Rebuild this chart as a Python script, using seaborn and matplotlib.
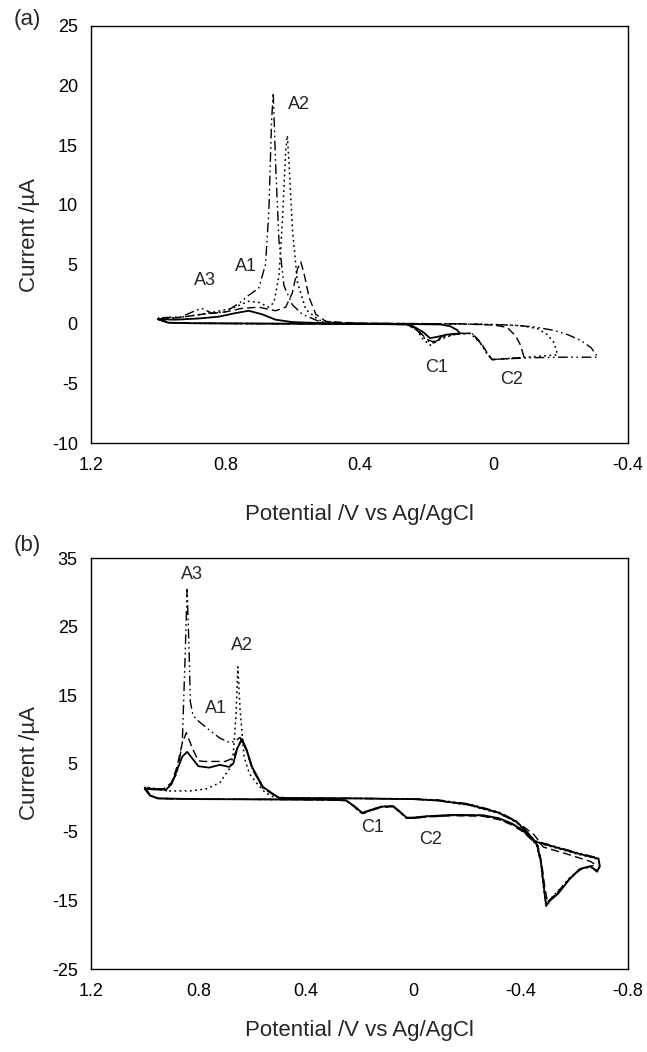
import matplotlib
matplotlib.use("Agg")
import matplotlib.pyplot as plt
import seaborn as sns

# ---------------------------------------------------------------------------
# Panel (a): cyclic voltammograms with increasing cathodic switching potential
# (potential in V vs Ag/AgCl, current in uA), scan starts at 1.0 V
# ---------------------------------------------------------------------------
a_solid_E = [1.00, 0.97, 0.90, 0.60, 0.40, 0.26, 0.24, 0.21, 0.19, 0.17, 0.14, 0.10,
             0.11, 0.13, 0.16, 0.30, 0.50, 0.60, 0.65, 0.69, 0.73, 0.77, 0.82, 0.88, 0.95, 1.00]
a_solid_I = [0.4, 0.1, 0.05, 0.02, 0.0, -0.05, -0.2, -0.7, -1.2, -1.1, -0.9, -0.8,
             -0.5, -0.2, -0.05, 0.0, 0.05, 0.15, 0.35, 0.8, 1.1, 0.9, 0.6, 0.45, 0.35, 0.4]

a_dash_E = [1.00, 0.97, 0.90, 0.60, 0.40, 0.26, 0.23, 0.20, 0.18, 0.15, 0.10, 0.065, 0.04,
            0.02, 0.005, -0.05, -0.09,
            -0.08, -0.065, -0.04, 0.00, 0.10, 0.40, 0.50, 0.53, 0.55, 0.565, 0.575, 0.585,
            0.60, 0.62, 0.65, 0.70, 0.75, 0.80, 0.87, 0.93, 1.00]
a_dash_I = [0.35, 0.1, 0.05, 0.0, 0.0, -0.05, -0.4, -1.3, -1.5, -1.0, -0.8, -0.8, -1.5,
            -2.4, -3.0, -2.9, -2.8,
            -1.8, -1.0, -0.3, -0.1, 0.0, 0.05, 0.2, 0.8, 2.2, 4.2, 5.2, 4.6,
            2.6, 1.4, 1.1, 1.4, 1.3, 1.0, 0.8, 0.55, 0.35]

a_dot_E = [1.00, 0.97, 0.90, 0.60, 0.40, 0.26, 0.23, 0.21, 0.19, 0.16, 0.12, 0.07, 0.04,
           0.02, 0.005, -0.10, -0.19,
           -0.18, -0.16, -0.13, -0.08, 0.00, 0.20, 0.45, 0.52, 0.56, 0.585, 0.60, 0.61,
           0.615, 0.62, 0.63, 0.64, 0.655, 0.67, 0.70, 0.73, 0.78, 0.85, 0.92, 1.00]
a_dot_I = [0.4, 0.1, 0.05, 0.0, 0.0, -0.05, -0.5, -1.3, -1.8, -1.3, -0.9, -0.8, -1.6,
           -2.5, -3.0, -2.8, -2.6,
           -1.6, -0.9, -0.4, -0.15, -0.05, 0.0, 0.05, 0.3, 1.2, 3.5, 8.0, 13.5,
           15.8, 14.5, 8.5, 4.0, 1.8, 1.4, 1.8, 1.9, 1.3, 0.9, 0.6, 0.4]

a_dashdot_E = [1.00, 0.97, 0.90, 0.60, 0.40, 0.26, 0.23, 0.20, 0.18, 0.15, 0.10, 0.065,
               0.04, 0.02, 0.005, -0.10, -0.20, -0.31,
               -0.29, -0.26, -0.22, -0.18, -0.12, -0.05, 0.10, 0.45, 0.52, 0.57, 0.60,
               0.625, 0.64, 0.65, 0.657, 0.662, 0.67, 0.68, 0.70, 0.73, 0.76, 0.80, 0.84,
               0.87, 0.89, 0.93, 1.00]
a_dashdot_I = [0.5, 0.1, 0.05, 0.0, 0.0, -0.05, -0.5, -1.4, -1.6, -1.1, -0.8, -0.8,
               -1.6, -2.5, -3.0, -2.85, -2.8, -2.8,
               -2.0, -1.4, -0.9, -0.55, -0.25, -0.1, 0.0, 0.05, 0.2, 0.8, 1.6,
               3.2, 7.0, 13.5, 19.4, 17.0, 9.5, 5.0, 3.0, 2.4, 1.7, 1.0, 0.9,
               1.3, 1.1, 0.6, 0.5]

# ---------------------------------------------------------------------------
# Panel (b): scans to -0.69 V
# ---------------------------------------------------------------------------
b_solid_E = [1.00, 0.98, 0.95, 0.80, 0.50, 0.30, 0.25, 0.22, 0.19, 0.16, 0.12, 0.075,
             0.05, 0.025, 0.00, -0.05, -0.15, -0.26, -0.32, -0.37, -0.41, -0.44, -0.46,
             -0.475, -0.485, -0.495, -0.51, -0.54, -0.58, -0.62, -0.66, -0.685, -0.695,
             -0.69, -0.60, -0.52, -0.455, -0.42, -0.385, -0.32, -0.21, -0.09, 0.00, 0.20,
             0.45, 0.50, 0.52, 0.56, 0.60, 0.62, 0.638, 0.655, 0.67, 0.685, 0.72, 0.76,
             0.80, 0.82, 0.842, 0.86, 0.88, 0.90, 0.92, 0.96, 1.00]
b_solid_I = [1.3, 0.3, -0.1, -0.2, -0.25, -0.3, -0.4, -1.2, -2.2, -1.8, -1.3, -1.2,
             -2.0, -2.9, -2.9, -2.7, -2.5, -2.55, -3.0, -3.8, -4.8, -5.9, -6.8,
             -9.0, -12.5, -15.8, -15.0, -14.0, -12.0, -10.4, -10.0, -10.8, -10.0,
             -8.9, -8.0, -7.1, -6.4, -4.9, -3.5, -2.2, -1.0, -0.4, -0.2, -0.1,
             -0.05, 0.0, 0.5, 1.6, 4.5, 7.0, 8.6, 7.2, 5.0, 4.5, 4.8, 4.4,
             4.6, 5.6, 6.7, 6.0, 4.0, 2.0, 1.2, 1.2, 1.3]

b_dash_E = [1.00, 0.98, 0.95, 0.80, 0.50, 0.30, 0.25, 0.22, 0.19, 0.16, 0.12, 0.075,
            0.05, 0.025, 0.00, -0.05, -0.15, -0.26, -0.32, -0.37, -0.41, -0.44, -0.465,
            -0.48, -0.49, -0.50, -0.52, -0.55, -0.59, -0.63, -0.66, -0.68,
            -0.66, -0.58, -0.485, -0.45, -0.41, -0.37, -0.31, -0.20, -0.09, 0.00, 0.20,
            0.45, 0.50, 0.52, 0.56, 0.60, 0.62, 0.64, 0.655, 0.67, 0.70, 0.74, 0.78,
            0.80, 0.82, 0.845, 0.86, 0.88, 0.90, 0.93, 0.97, 1.00]
b_dash_I = [1.4, 0.4, -0.1, -0.2, -0.25, -0.3, -0.4, -1.3, -2.3, -1.9, -1.4, -1.3,
            -2.1, -3.0, -3.0, -2.8, -2.6, -2.7, -3.2, -4.0, -5.0, -6.1, -7.0,
            -10.0, -13.0, -15.2, -14.5, -13.2, -11.5, -10.3, -10.0, -9.8,
            -9.3, -8.3, -7.2, -5.4, -4.2, -3.2, -2.1, -1.0, -0.4, -0.2, -0.1,
            -0.05, 0.0, 0.4, 1.4, 4.2, 6.8, 8.4, 7.3, 5.8, 5.3, 5.3, 5.3,
            5.4, 7.0, 9.5, 8.0, 4.5, 2.2, 1.3, 1.3, 1.4]

b_dot_E = [1.00, 0.98, 0.95, 0.80, 0.50, 0.30, 0.25, 0.22, 0.19, 0.16, 0.12, 0.075,
           0.05, 0.025, 0.00, -0.05, -0.15, -0.26, -0.32, -0.37, -0.41, -0.44, -0.46,
           -0.475, -0.485, -0.495, -0.51, -0.54, -0.58, -0.62, -0.66, -0.685, -0.695,
           -0.69, -0.60, -0.52, -0.455, -0.42, -0.385, -0.32, -0.21, -0.09, 0.00, 0.20,
           0.45, 0.52, 0.55, 0.58, 0.61, 0.63, 0.645, 0.653, 0.66, 0.67, 0.68, 0.72,
           0.77, 0.83, 0.91, 0.95, 1.00]
b_dot_I = [1.5, 0.4, -0.1, -0.2, -0.25, -0.3, -0.4, -1.2, -2.2, -1.8, -1.3, -1.2,
           -2.0, -2.9, -2.9, -2.7, -2.5, -2.6, -3.1, -3.9, -4.9, -6.0, -6.9,
           -9.5, -13.0, -15.5, -14.8, -13.6, -11.8, -10.5, -10.1, -10.6, -10.0,
           -9.0, -8.1, -7.2, -6.5, -5.0, -3.6, -2.3, -1.1, -0.4, -0.2, -0.1,
           -0.05, 0.1, 0.7, 2.0, 3.5, 6.0, 13.0, 19.1, 12.0, 6.5, 4.5, 2.2,
           1.3, 1.0, 1.0, 1.3, 1.5]

b_dashdot_E = [1.00, 0.98, 0.95, 0.80, 0.50, 0.30, 0.25, 0.22, 0.19, 0.16, 0.12, 0.075,
               0.05, 0.025, 0.00, -0.05, -0.15, -0.26, -0.32, -0.37, -0.41, -0.44, -0.46,
               -0.475, -0.485, -0.495, -0.51, -0.54, -0.58, -0.62, -0.66, -0.685, -0.695,
               -0.69, -0.60, -0.52, -0.455, -0.42, -0.385, -0.32, -0.21, -0.09, 0.00, 0.20,
               0.45, 0.50, 0.52, 0.56, 0.60, 0.62, 0.645, 0.655, 0.68, 0.72, 0.76, 0.80,
               0.82, 0.83, 0.835, 0.842, 0.85, 0.86, 0.88, 0.92, 0.96, 1.00]
b_dashdot_I = [1.6, 0.4, -0.1, -0.2, -0.25, -0.3, -0.4, -1.3, -2.4, -1.9, -1.4, -1.3,
               -2.1, -3.0, -3.0, -2.8, -2.6, -2.6, -3.1, -3.9, -4.9, -6.0, -6.9,
               -9.3, -12.8, -15.6, -14.9, -13.8, -11.9, -10.4, -10.0, -10.7, -10.0,
               -8.8, -7.9, -7.0, -6.3, -4.8, -3.4, -2.1, -0.9, -0.3, -0.15, -0.1,
               -0.05, 0.0, 0.5, 1.5, 4.3, 6.8, 8.8, 8.5, 8.0, 8.7, 9.9, 11.2,
               12.0, 14.0, 22.0, 30.4, 20.0, 8.0, 3.5, 1.0, 1.3, 1.6]

a_xticks = [1.2, 1.0, 0.8, 0.6, 0.4, 0.2, 0.0, -0.2, -0.4]
a_xlabels = ["1.2", "", "0.8", "", "0.4", "", "0", "", "-0.4"]
a_yticks = [-10, -5, 0, 5, 10, 15, 20, 25]
b_xticks = [1.2, 1.0, 0.8, 0.6, 0.4, 0.2, 0.0, -0.2, -0.4, -0.6, -0.8]
b_xlabels = ["1.2", "", "0.8", "", "0.4", "", "0", "", "-0.4", "", "-0.8"]
b_yticks = [-25, -15, -5, 5, 15, 25, 35]

a_peaks = [("A2", 0.579, 18.4), ("A1", 0.737, 4.8), ("A3", 0.860, 3.6),
           ("C1", 0.170, -3.7), ("C2", -0.054, -4.7)]
b_peaks = [("A3", 0.824, 32.6), ("A2", 0.638, 22.2), ("A1", 0.734, 13.1),
           ("C1", 0.153, -4.4), ("C2", -0.063, -6.1)]

sns.set_theme(style="white")
plt.rcParams['font.family'] = ['Liberation Sans', 'DejaVu Sans']
plt.rcParams['axes.unicode_minus'] = False

FS = 13        # tick labels and peak names
FS_LABEL = 16  # axis titles
SOLID = '-'
DASH = (0, (6, 3))
DOT = (0, (1.2, 2.2))
DASHDOT = (0, (7, 2.5, 1.2, 2.5, 1.2, 2.5))

fig = plt.figure(figsize=(6.47, 10.52), dpi=100)
W, H = 647, 1052
ax_a = fig.add_axes([91 / W, 1 - 443 / H, (628 - 91) / W, (443 - 26) / H])
ax_b = fig.add_axes([91 / W, 1 - 969 / H, (628 - 91) / W, (969 - 558) / H])


def trace(ax, E, I, ls, lw):
    sns.lineplot(x=E, y=I, sort=False, estimator=None, color='black',
                 linestyle=ls, linewidth=lw, ax=ax)


trace(ax_a, a_dashdot_E, a_dashdot_I, DASHDOT, 1.0)
trace(ax_a, a_dot_E, a_dot_I, DOT, 1.1)
trace(ax_a, a_dash_E, a_dash_I, DASH, 1.0)
trace(ax_a, a_solid_E, a_solid_I, SOLID, 1.3)

trace(ax_b, b_dashdot_E, b_dashdot_I, DASHDOT, 1.0)
trace(ax_b, b_dot_E, b_dot_I, DOT, 1.1)
trace(ax_b, b_dash_E, b_dash_I, DASH, 1.0)
trace(ax_b, b_solid_E, b_solid_I, SOLID, 1.3)


def style_axes(ax, xticks, xlabels, yticks, xlim, ylim, peaks):
    ax.set_xlim(*xlim)
    ax.set_ylim(*ylim)
    ax.set_xticks(xticks)
    ax.set_xticklabels(xlabels)
    ax.set_yticks(yticks)
    ax.set_yticklabels([str(v) for v in yticks])
    ax.tick_params(axis='x', direction='in', length=3.6, width=1, pad=10,
                   labelsize=FS, colors='black')
    ax.tick_params(axis='y', direction='out', length=6.5, width=1, pad=3,
                   labelsize=FS, colors='black')
    for s in ax.spines.values():
        s.set_visible(True)
        s.set_color('black')
        s.set_linewidth(1.0)
    ax.set_xlabel('Potential /V vs Ag/AgCl', fontsize=FS_LABEL)
    ax.set_ylabel('Current /µA', fontsize=FS_LABEL)
    ax.grid(False)
    for name, x, y in peaks:
        ax.text(x, y, name, ha='center', va='center', fontsize=FS)


style_axes(ax_a, a_xticks, a_xlabels, a_yticks, (1.2, -0.4), (-10, 25), a_peaks)
style_axes(ax_b, b_xticks, b_xlabels, b_yticks, (1.2, -0.8), (-25, 35), b_peaks)

ax_a.xaxis.set_label_coords(0.5, -0.146)
ax_a.yaxis.set_label_coords(-0.095, 0.5)
ax_b.xaxis.set_label_coords(0.5, -0.124)
ax_b.yaxis.set_label_coords(-0.095, 0.5)

fig.text(27 / W, 1 - 19 / H, "(a)", fontsize=16, ha='center', va='center')
fig.text(27 / W, 1 - 546 / H, "(b)", fontsize=16, ha='center', va='center')

fig.savefig("out.png", dpi=100, facecolor='white')
